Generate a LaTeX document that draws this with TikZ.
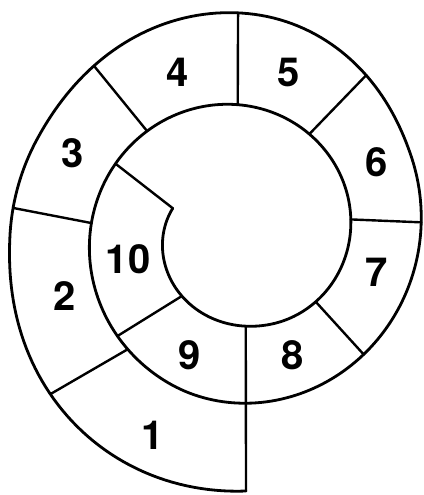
\documentclass[tikz,border=0pt]{standalone}
\usepackage{fontspec}
\setmainfont{TeX Gyre Heros}
\begin{document}
\begin{tikzpicture}[x=1pt,y=-1pt,
  declare function={
    bq(\ang,\cen,\wid)=max(0,1-((\ang-\cen)/\wid)*((\ang-\cen)/\wid));
    bump(\ang,\cen,\wid)=bq(\ang,\cen,\wid)*bq(\ang,\cen,\wid);
    rr(\ang)=250-0.222*\ang+11*bump(\ang,30,60)+12*bump(\ang,180,65)-10*bump(\ang,285,100)+7*bump(\ang,830,130);
    px(\ang)=240-rr(\ang)*sin(\ang);
    py(\ang)=235+rr(\ang)*cos(\ang);
  },
  wall/.style={line width=2.8pt, line join=round, line cap=round},
  cut/.style={line width=2.4pt, line cap=round, line join=round},
  num/.style={font=\bfseries\fontsize{40}{40}\selectfont, inner sep=0pt}]
\fill[white] (0,0) rectangle (423,495);
\useasboundingbox (0,0) rectangle (423,495);
% points on the spiral (angle from the bottom, clockwise)
\coordinate (s0)   at ({px(-1.35)},{py(-1.35)});
\coordinate (o12)  at ({px(50)},{py(50)});
\coordinate (o23)  at ({px(96.8)},{py(96.8)});
\coordinate (o34)  at ({px(139.2)},{py(139.2)});
\coordinate (o45)  at ({px(179.5)},{py(179.5)});
\coordinate (o56)  at ({px(218.3)},{py(218.3)});
\coordinate (o67)  at ({px(266)},{py(266)});
\coordinate (o78)  at ({px(314)},{py(314)});
\coordinate (m0)   at ({px(358)},{py(358)});
\coordinate (i12)  at ({px(404.5)},{py(404.5)});
\coordinate (o910) at ({px(410.5)},{py(410.5)});
\coordinate (i23)  at ({px(454.6)},{py(454.6)});
\coordinate (e10)  at ({px(479.8)},{py(479.8)});
\coordinate (i34)  at ({px(498.2)},{py(498.2)});
\coordinate (i45)  at ({px(539)},{py(539)});
\coordinate (i56)  at ({px(574.5)},{py(574.5)});
\coordinate (i67)  at ({px(622)},{py(622)});
\coordinate (i78)  at ({px(671.4)},{py(671.4)});
\coordinate (i89)  at ({px(716.4)},{py(716.4)});
\coordinate (i910) at ({px(763.6)},{py(763.6)});
\coordinate (end)  at ({px(831.7)},{py(831.7)});
% the spiral wall
\draw[wall] plot[domain=-1.35:831.7, samples=500, variable=\t] ({px(\t)},{py(\t)});
% dividers
\draw[cut] (s0) -- (m0) -- (i89);
\draw[cut] (o12) -- (i12);
\draw[cut] (o23) -- (i23);
\draw[cut] (o34) -- (i34);
\draw[cut] (o45) -- (i45);
\draw[cut] (o56) -- (i56);
\draw[cut] (o67) -- (i67);
\draw[cut] (o78) -- (i78);
\draw[cut] (o910) -- (i910);
\draw[cut] (end) -- (e10);
% labels
\node[num] (n1) at (153,435) {1};
\node[num] (n2) at (65,296) {2};
\node[num] (n3) at (73,153) {3};
\node[num] (n4) at (178,72) {4};
\node[num] (n5) at (289,72) {5};
\node[num] (n6) at (377,162) {6};
\node[num] (n7) at (377,272) {7};
\node[num] (n8) at (293,355) {8};
\node[num] (n9) at (190,355) {9};
\node[num] (n10) at (128,259) {10};
\end{tikzpicture}
\end{document}
